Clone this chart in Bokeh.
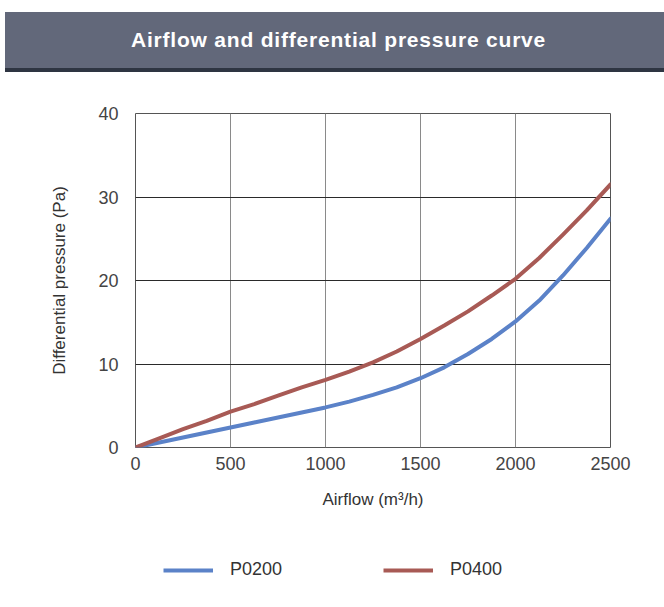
from bokeh.plotting import figure
from bokeh.layouts import column
from bokeh.models import Div, Legend, LegendItem, Range1d, FixedTicker
from bokeh.embed import file_html
from bokeh.resources import INLINE

# ---- data ----
title_text = "Airflow and differential pressure curve"
airflow = [0, 125, 250, 375, 500, 625, 750, 875, 1000, 1125, 1250,
           1375, 1500, 1625, 1750, 1875, 2000, 2125, 2250, 2375, 2500]
p0200 = [0, 0.6, 1.2, 1.8, 2.4, 3.0, 3.6, 4.2, 4.8, 5.5, 6.3,
         7.2, 8.3, 9.6, 11.2, 13.0, 15.1, 17.6, 20.6, 23.9, 27.4]
p0400 = [0, 1.1, 2.2, 3.2, 4.3, 5.2, 6.2, 7.2, 8.1, 9.1, 10.2,
         11.5, 13.0, 14.6, 16.3, 18.2, 20.2, 22.7, 25.5, 28.4, 31.5]
series_names = ["P0200", "P0400"]
series_colors = ["#5b82c8", "#a85a55"]
x_ticks = [0, 500, 1000, 1500, 2000, 2500]
y_ticks = [0, 10, 20, 30, 40]
x_label = "Airflow (m\u00b3/h)"
y_label = "Differential pressure (Pa)"

FONT = "Liberation Sans"
W = 664
BL, BR = 135, 54
HDR_COLOR = "#62687a"
STRIP_COLOR = "#2e3542"

# ---- header bar (plain text block, not a plot) ----
hdr = Div(text=title_text, width=W - 5, height=56, margin=(12, 0, 0, 5),
          styles={"background-color": HDR_COLOR, "color": "#ffffff",
                  "font-family": "'Liberation Sans', Arial, sans-serif",
                  "font-size": "21px", "font-weight": "bold", "letter-spacing": "0.8px",
                  "text-align": "center", "line-height": "56px", "text-indent": "8px",
                  "overflow": "hidden"})
strip = Div(text="", width=W - 5, height=4, margin=(0, 0, 0, 5),
            styles={"background-color": STRIP_COLOR})

# ---- main chart ----
p = figure(width=W, height=468, output_backend="svg", toolbar_location=None,
           x_range=Range1d(0, 2500), y_range=Range1d(0, 40),
           min_border_left=BL, min_border_right=BR, min_border_top=41, min_border_bottom=93)
p.border_fill_color = "white"
p.background_fill_color = "white"
p.outline_line_color = "#555555"

for ys, c in ((p0200, series_colors[0]), (p0400, series_colors[1])):
    p.line(airflow, ys, line_color=c, line_width=4, line_join="round", line_cap="round")

p.xaxis.ticker = FixedTicker(ticks=x_ticks)
p.yaxis.ticker = FixedTicker(ticks=y_ticks)
for ax in (p.xaxis, p.yaxis):
    ax.axis_line_color = None
    ax.major_tick_line_color = None
    ax.minor_tick_line_color = None
    ax.major_tick_out = 0
    ax.major_tick_in = 0
    ax.minor_tick_out = 0
    ax.major_label_text_font = FONT
    ax.major_label_text_font_size = "18px"
    ax.major_label_text_color = "#444444"
    ax.axis_label_text_font = FONT
    ax.axis_label_text_font_size = "17px"
    ax.axis_label_text_font_style = "normal"
    ax.axis_label_text_color = "#333333"
p.xaxis.axis_label = x_label
p.yaxis.axis_label = y_label
p.xaxis.major_label_standoff = 9
p.yaxis.major_label_standoff = 17
p.xaxis.axis_label_standoff = 17
p.yaxis.axis_label_standoff = 26

p.xgrid.grid_line_color = "#8a8a8a"
p.ygrid.grid_line_color = "#2a2a2a"

# ---- legend strip (same series, drawn outside its visible y-range) ----
leg = figure(width=W, height=66, output_backend="svg", toolbar_location=None,
             x_range=Range1d(0, 2500), y_range=Range1d(1000, 1001),
             min_border_left=BL, min_border_right=BR, min_border_top=0, min_border_bottom=0)
leg.axis.visible = False
leg.grid.visible = False
leg.outline_line_color = None
leg.border_fill_color = "white"
leg.background_fill_color = "white"
items = []
for name, ys, c in zip(series_names, (p0200, p0400), series_colors):
    r = leg.line(airflow, ys, line_color=c, line_width=4)
    items.append(LegendItem(label=name, renderers=[r]))
legend = Legend(items=items, orientation="horizontal", location=(28, 26),
                glyph_width=50, glyph_height=20, label_standoff=17, spacing=101, padding=0,
                margin=0, border_line_color=None, background_fill_alpha=0,
                label_text_font=FONT, label_text_font_size="18px", label_text_color="#333333")
leg.add_layout(legend, "center")

layout = column(hdr, strip, p, leg, spacing=0)
open("out.html", "w").write(file_html(layout, INLINE))
